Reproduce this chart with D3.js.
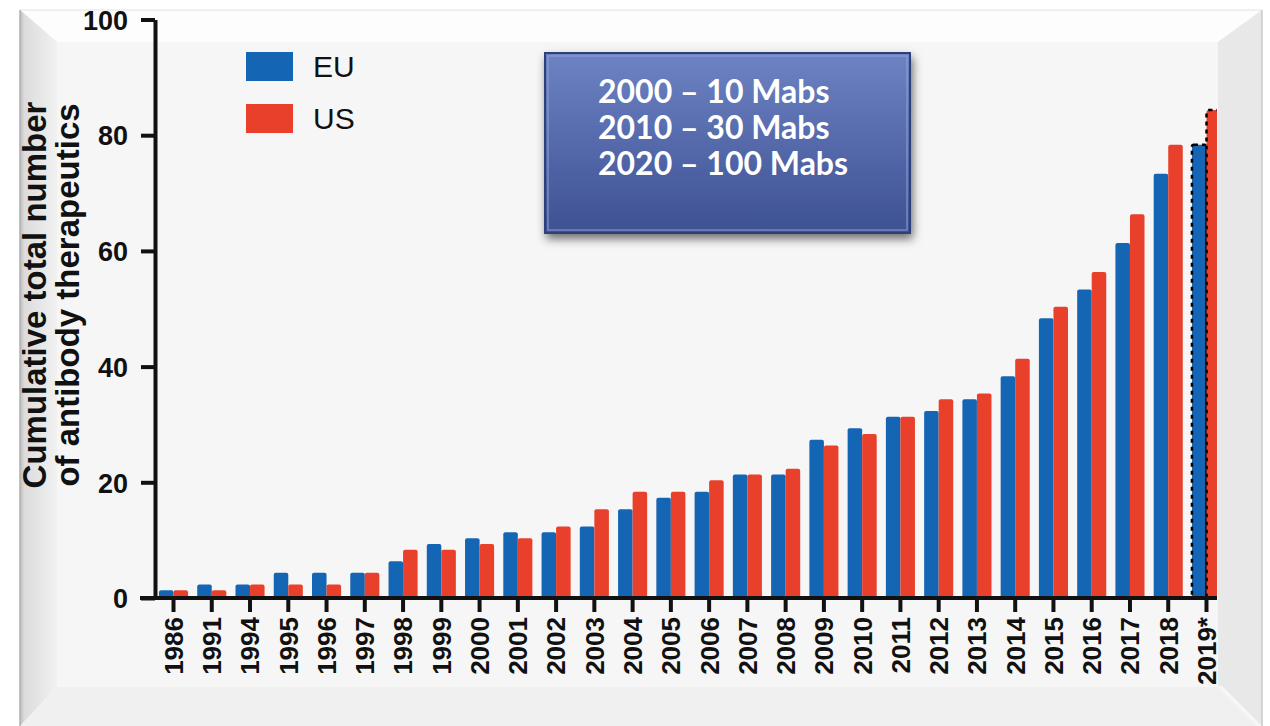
<!DOCTYPE html>
<html>
<head>
<meta charset="utf-8">
<style>
    body { margin: 0; background: #ffffff; }
    svg { display: block; font-family: "Liberation Sans", Arial, sans-serif; }
    .axis path, .axis line { stroke: #111; }
    .axis text { fill: #111; font-weight: bold; }
</style>
</head>
<body>
<svg id="chart" width="1270" height="726"></svg>
<script src="https://cdn.jsdelivr.net/npm/d3@7"></script>
<script>
    // data
    const categories = ["1986", "1991", "1994", "1995", "1996", "1997", "1998", "1999", "2000", "2001",
        "2002", "2003", "2004", "2005", "2006", "2007", "2008", "2009", "2010", "2011",
        "2012", "2013", "2014", "2015", "2016", "2017", "2018", "2019*"]
    const euValues = [1, 2, 2, 4, 4, 4, 6, 9, 10, 11, 11, 12, 15, 17, 18, 21, 21, 27, 29, 31,
        32, 34, 38, 48, 53, 61, 73, 78]
    const usValues = [1, 1, 2, 2, 2, 4, 8, 8, 9, 10, 12, 15, 18, 18, 20, 21, 22, 26, 28, 31,
        34, 35, 41, 50, 56, 66, 78, 84]
    const seriesNames = ["EU", "US"]
    const seriesColors = ["#1565b5", "#e8402a"]
    const yTicks = [0, 20, 40, 60, 80, 100]
    const yTitle = ["Cumulative total number", "of antibody therapeutics"]
    const xTitle = "Year of first approval"
    const noteLines = ["2000 \u2013 10 Mabs", "2010 \u2013 30 Mabs", "2020 \u2013 100 Mabs"]
    const estimated = "2019*"

    let svg = d3.select("#chart")
    let defs = svg.append("defs")

    let leftGrad = defs.append("linearGradient").attr("id", "leftBevel")
    leftGrad.append("stop").attr("offset", "0%").attr("stop-color", "#bdbdbd")
    leftGrad.append("stop").attr("offset", "12%").attr("stop-color", "#dcdcdc")
    leftGrad.append("stop").attr("offset", "100%").attr("stop-color", "#f1f1f1")

    let boxGrad = defs.append("linearGradient").attr("id", "boxFill")
        .attr("x1", 0).attr("y1", 0).attr("x2", 0).attr("y2", 1)
    boxGrad.append("stop").attr("offset", "0%").attr("stop-color", "#6d83c4")
    boxGrad.append("stop").attr("offset", "100%").attr("stop-color", "#3d5092")

    let shadow = defs.append("filter").attr("id", "boxShadow")
        .attr("x", "-10%").attr("y", "-10%").attr("width", "125%").attr("height", "130%")
    shadow.append("feDropShadow").attr("dx", 2).attr("dy", 5).attr("stdDeviation", 5)
        .attr("flood-color", "#000").attr("flood-opacity", 0.55)

    defs.append("clipPath").attr("id", "plotClip")
        .append("rect").attr("x", 0).attr("y", 0).attr("width", 1217).attr("height", 726)

    // frame (bevelled picture), drawn under the chart
    let frame = svg.append("g")
    frame.append("rect").attr("x", 20).attr("y", 10).attr("width", 1242).attr("height", 716)
        .attr("fill", "#f6f6f6")
    frame.append("polygon").attr("points", "20,10 1262,10 1218,42 57,42").attr("fill", "#fdfdfd")
    frame.append("polygon").attr("points", "20,10 57,42 57,687 20,726").attr("fill", "url(#leftBevel)")
    frame.append("polygon").attr("points", "57,687 1218,687 1257,726 20,726").attr("fill", "#f0f0f0")
    frame.append("line").attr("x1", 20).attr("y1", 10).attr("x2", 1262).attr("y2", 10)
        .attr("stroke", "#e2e2e2").attr("stroke-width", 1)
    frame.append("line").attr("x1", 20).attr("y1", 10).attr("x2", 20).attr("y2", 726)
        .attr("stroke", "#b0b0b0").attr("stroke-width", 1.5)

    let chart = svg.append("g").attr("clip-path", "url(#plotClip)")

    let x = d3.scaleBand().domain(categories).range([154, 1226])
        .paddingInner(0.24).paddingOuter(0.13)
    let xs = d3.scaleBand().domain(seriesNames).range([0, x.bandwidth()])
    let y = d3.scaleLinear().domain([0, 100]).range([598, 19.5])

    let rows = categories.map((c, i) => ({ cat: c, values: [euValues[i], usValues[i]] }))

    chart.append("g")
        .selectAll("g")
        .data(rows)
        .enter()
        .append("g")
        .attr("transform", d => "translate(" + x(d.cat) + ",0)")
        .selectAll("rect")
        .data(d => d.values.map((v, j) => ({ cat: d.cat, name: seriesNames[j], color: seriesColors[j], v: v })))
        .enter()
        .append("rect")
        .attr("x", d => xs(d.name))
        .attr("y", d => y(d.v) - 2)
        .attr("width", xs.bandwidth())
        .attr("height", d => y(0) - y(d.v) + 2)
        .attr("rx", 2)
        .attr("fill", d => d.color)
        .attr("stroke", d => d.cat === estimated ? "#000" : "none")
        .attr("stroke-width", 2.5)
        .attr("stroke-dasharray", "4,4")

    // axes
    let yAxis = chart.append("g")
        .attr("class", "axis")
        .attr("transform", "translate(155,0)")
        .call(d3.axisLeft(y).tickValues(yTicks).tickSize(14).tickSizeOuter(0).tickPadding(13))
    yAxis.selectAll("path, line").attr("stroke-width", 4)
    yAxis.selectAll("text").attr("font-size", 27).attr("dy", "0.36em")

    let xAxis = chart.append("g")
        .attr("class", "axis")
        .attr("transform", "translate(0," + y(0) + ")")
        .call(d3.axisBottom(x).tickSize(14).tickSizeOuter(0))
    xAxis.select(".domain").attr("d", "M140,0H1226")
    xAxis.selectAll("path, line").attr("stroke-width", 4)
    xAxis.selectAll("text")
        .attr("font-size", 26)
        .attr("transform", "rotate(-90)")
        .attr("text-anchor", "end")
        .attr("x", -19)
        .attr("y", 0)
        .attr("dy", "0.36em")

    // y title
    chart.append("g")
        .attr("transform", "translate(0,295) rotate(-90)")
        .selectAll("text")
        .data(yTitle)
        .enter()
        .append("text")
        .attr("x", 0)
        .attr("y", (d, i) => 46 + i * 33)
        .attr("text-anchor", "middle")
        .attr("font-size", 33)
        .attr("font-weight", "bold")
        .attr("fill", "#111")
        .text(d => d)

    // legend
    let legend = chart.append("g")
        .selectAll("g")
        .data(seriesNames)
        .enter()
        .append("g")
        .attr("transform", (d, i) => "translate(246," + (52 + i * 52) + ")")
    legend.append("rect")
        .attr("width", 47).attr("height", 29)
        .attr("fill", (d, i) => seriesColors[i])
    legend.append("text")
        .attr("x", 67).attr("y", 25)
        .attr("font-size", 30)
        .attr("fill", "#111")
        .text(d => d)

    // x title, cut off by the bottom edge
    chart.append("text")
        .attr("x", 690).attr("y", 746)
        .attr("text-anchor", "middle")
        .attr("font-size", 28)
        .attr("font-weight", "bold")
        .attr("fill", "#222")
        .text(xTitle)

    // right bevel sits over the cropped last bar
    let edge = svg.append("g")
    edge.append("polygon").attr("points", "1262,10 1262,726 1222,686 1218,686 1218,42").attr("fill", "#e8e8e8")
    edge.append("line").attr("x1", 1262).attr("y1", 10).attr("x2", 1262).attr("y2", 726)
        .attr("stroke", "#c8c8c8").attr("stroke-width", 1.5)

    // note box
    let note = svg.append("g")
    note.append("rect")
        .attr("x", 545).attr("y", 53).attr("width", 365).attr("height", 180)
        .attr("fill", "url(#boxFill)")
        .attr("stroke", "#2e3f7a").attr("stroke-width", 2)
        .attr("filter", "url(#boxShadow)")
    note.append("rect")
        .attr("x", 548).attr("y", 56).attr("width", 359).attr("height", 174)
        .attr("fill", "none")
        .attr("stroke", "#8ea0d6").attr("stroke-width", 1.5).attr("opacity", 0.7)
    note.selectAll("text.note")
        .data(noteLines)
        .enter()
        .append("text")
        .attr("class", "note")
        .attr("x", 598)
        .attr("y", (d, i) => 103 + i * 36)
        .attr("font-family", "Lato, sans-serif")
        .attr("font-weight", "bold")
        .attr("font-size", 32)
        .attr("fill", "#fff")
        .text(d => d)
</script>
</body>
</html>
